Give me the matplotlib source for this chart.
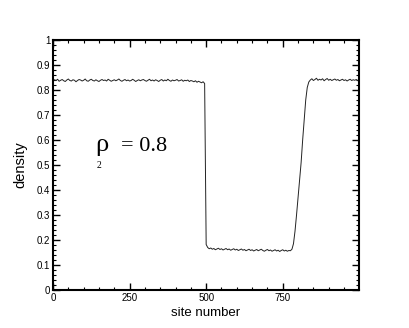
import numpy as np
import matplotlib.pyplot as plt
from matplotlib.ticker import MultipleLocator, FuncFormatter

# density profile, one value every 5 sites (0 .. 995)
high_left = [
    0.836, 0.841, 0.838, 0.843, 0.835, 0.839, 0.842, 0.837, 0.834, 0.840,
    0.844, 0.838, 0.836, 0.841, 0.839, 0.833, 0.838, 0.842, 0.840, 0.836,
    0.839, 0.844, 0.837, 0.835, 0.840, 0.843, 0.838, 0.836, 0.841, 0.837,
    0.834, 0.839, 0.842, 0.838, 0.840, 0.836, 0.843, 0.839, 0.835, 0.838,
    0.841, 0.837, 0.840, 0.844, 0.838, 0.835, 0.839, 0.842, 0.837, 0.840,
    0.836, 0.838, 0.843, 0.839, 0.834, 0.838, 0.841, 0.837, 0.840, 0.842,
    0.838, 0.835, 0.839, 0.843, 0.837, 0.840, 0.836, 0.841, 0.838, 0.834,
    0.839, 0.842, 0.836, 0.840, 0.837, 0.843, 0.838, 0.835, 0.840, 0.837,
    0.839, 0.842, 0.836, 0.838, 0.841, 0.835, 0.839, 0.837, 0.840, 0.834,
    0.838, 0.836, 0.833, 0.837, 0.831, 0.835, 0.832, 0.829, 0.833, 0.826,
]
low_mid = [
    0.182, 0.170, 0.165, 0.168, 0.163, 0.166, 0.161, 0.164, 0.167, 0.162,
    0.165, 0.160, 0.163, 0.166, 0.161, 0.164, 0.159, 0.162, 0.165, 0.160,
    0.163, 0.158, 0.161, 0.164, 0.159, 0.162, 0.157, 0.160, 0.163, 0.158,
    0.161, 0.156, 0.159, 0.162, 0.157, 0.160, 0.163, 0.158, 0.155, 0.159,
    0.162, 0.157, 0.160, 0.155, 0.158, 0.161, 0.156, 0.159, 0.154, 0.158,
    0.161, 0.156, 0.159, 0.155, 0.158, 0.157,
]
rise = [0.163, 0.185, 0.235, 0.300, 0.370, 0.440,
        0.510, 0.600, 0.680, 0.760, 0.810, 0.832]
high_right = [
    0.840, 0.845, 0.838, 0.842, 0.847, 0.839, 0.843, 0.840, 0.845, 0.837,
    0.842, 0.846, 0.839, 0.843, 0.838, 0.841, 0.844, 0.839, 0.842, 0.837,
    0.840, 0.843, 0.838, 0.841, 0.836, 0.840, 0.843, 0.838, 0.841, 0.839,
    0.842, 0.838,
]

density = np.array(high_left + low_mid + rise + high_right)
sites = np.arange(len(density)) * 5

plt.rcParams['font.family'] = 'Liberation Sans'

fig = plt.figure(figsize=(4.09, 3.28), dpi=100)
ax = fig.add_axes([0.1296, 0.1159, 0.7482, 0.7621])

ax.plot(sites, density, color='#222222', lw=0.7)

ax.set_xlim(0, 999)
ax.set_ylim(0, 1)
ax.xaxis.set_major_locator(MultipleLocator(250))
ax.xaxis.set_minor_locator(MultipleLocator(50))
ax.yaxis.set_major_locator(MultipleLocator(0.1))
ax.yaxis.set_minor_locator(MultipleLocator(0.02))
ax.yaxis.set_major_formatter(FuncFormatter(lambda v, p: '%g' % round(v, 2)))

ax.tick_params(which='both', direction='in', top=True, right=True,
               labelsize=7, pad=2, width=1)
ax.tick_params(which='major', length=5)
ax.tick_params(which='minor', length=2.5, width=0.8)
for s in ax.spines.values():
    s.set_linewidth(1.5)

ax.set_xlabel('site number', fontsize=9.5, labelpad=3)
ax.set_ylabel('density', fontsize=10.5, labelpad=7)

# rho_2 = 0.8 annotation
serif = 'Liberation Serif'
ax.text(0.137, 0.555, '\u03c1', transform=ax.transAxes, fontsize=19,
        family=serif, va='baseline')
ax.text(0.143, 0.49, '2', transform=ax.transAxes, fontsize=7,
        family=serif, va='baseline')
ax.text(0.223, 0.555, '= 0.8', transform=ax.transAxes, fontsize=16,
        family=serif, va='baseline')

fig.savefig('out.png', dpi=100)
